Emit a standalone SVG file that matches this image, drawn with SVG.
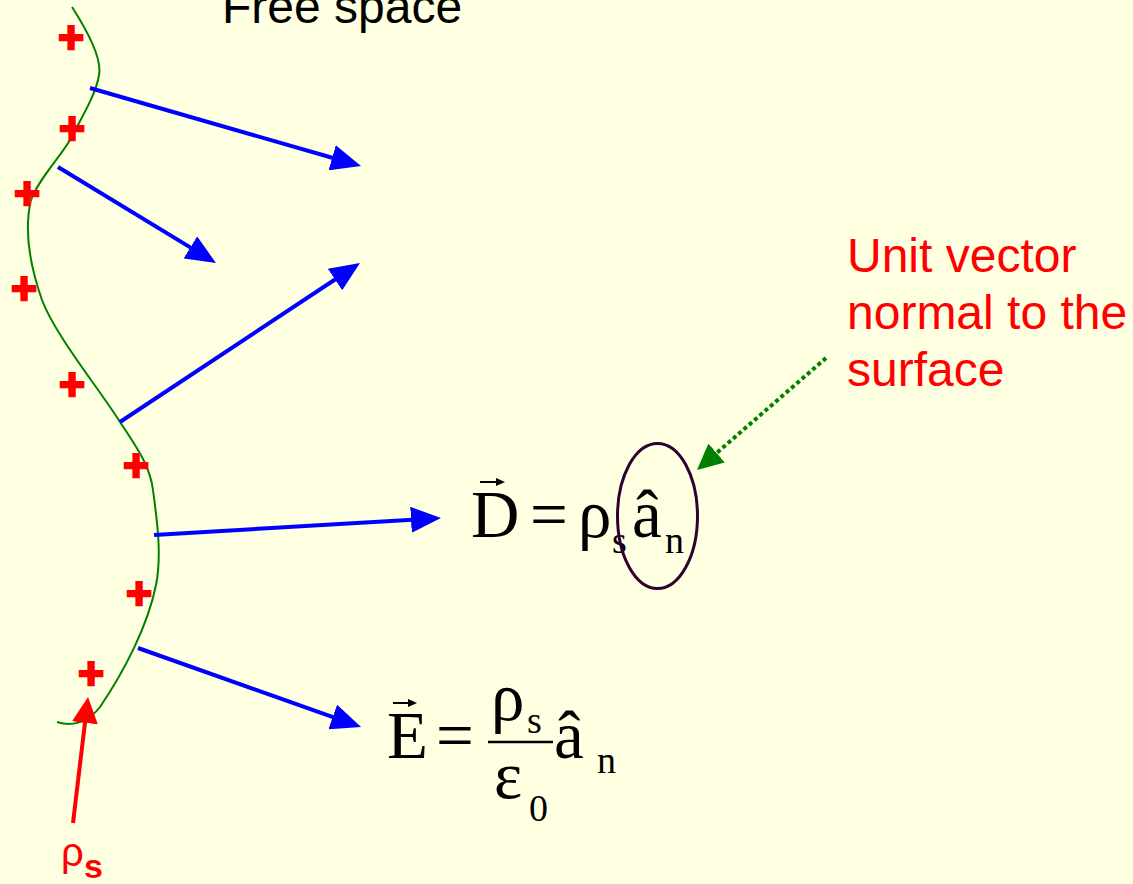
<svg xmlns="http://www.w3.org/2000/svg" width="1133" height="884" viewBox="0 0 1133 884">
<style>
.plus{font-family:"Liberation Sans",Arial,sans-serif;font-weight:bold;font-size:44px;fill:#FF0000;stroke:#FF0000;stroke-width:2.5;text-anchor:middle}
.blue{stroke:#0000FF;stroke-width:4;fill:none}
.lbl{font-family:"Liberation Sans",Arial,sans-serif;font-size:48px}
.eq{font-family:"Liberation Serif","Times New Roman",serif;font-size:67px;fill:#000}
.sub{font-family:"Liberation Serif","Times New Roman",serif;font-size:38px;fill:#000}
.accl{stroke:#000;stroke-width:2;fill:none}
</style>
<defs>
<marker id="ahBlue" markerUnits="userSpaceOnUse" markerWidth="30" markerHeight="26" refX="10" refY="13" orient="auto">
<path d="M0,0 L30,13 L0,26 z" fill="#0000FF"/>
</marker>
<marker id="ahRed" markerUnits="userSpaceOnUse" markerWidth="26" markerHeight="26" refX="8" refY="13" orient="auto">
<path d="M0,0 L26,13 L0,26 z" fill="#FF0000"/>
</marker>
<marker id="ahGreen" markerUnits="userSpaceOnUse" markerWidth="26" markerHeight="25" refX="2" refY="12.5" orient="auto">
<path d="M0,0 L26,12.5 L0,25 z" fill="#008000"/>
</marker>
<marker id="ahVec" markerUnits="userSpaceOnUse" markerWidth="9" markerHeight="8" refX="3" refY="4" orient="auto">
<path d="M0,0 L9,4 L0,8 z" fill="#000"/>
</marker>
</defs>
<rect x="0" y="0" width="1133" height="884" fill="#FFFFE1"/>

<g id="surface">
<path d="M72,7 C90,35 102,60 99,75 C96,95 80,120 70,140 C58,160 38,180 31,200 C25,225 28,260 42,300 C55,335 100,390 120,422 C135,445 150,465 153,490 C157,520 162,555 156,585 C148,625 125,670 100,707 C90,720 75,728 57,722" fill="none" stroke="#008000" stroke-width="2"/>
</g>

<g id="charges">
<text class="plus" x="71" y="53">+</text>
<text class="plus" x="72" y="144">+</text>
<text class="plus" x="27" y="209">+</text>
<text class="plus" x="24" y="304">+</text>
<text class="plus" x="72" y="400">+</text>
<text class="plus" x="136" y="481">+</text>
<text class="plus" x="139" y="609">+</text>
<text class="plus" x="91" y="689">+</text>
</g>

<g id="connectors">
<line class="blue" x1="90" y1="88" x2="341.8" y2="160.5" marker-end="url(#ahBlue)"/>
<line class="blue" x1="58" y1="167" x2="198.9" y2="252.6" marker-end="url(#ahBlue)"/>
<line class="blue" x1="120" y1="422" x2="343.3" y2="274" marker-end="url(#ahBlue)"/>
<line class="blue" x1="154" y1="535" x2="421" y2="519.2" marker-end="url(#ahBlue)"/>
<line class="blue" x1="138" y1="648" x2="342.2" y2="720.3" marker-end="url(#ahBlue)"/>
<line x1="73" y1="823" x2="85.9" y2="714.9" stroke="#FF0000" stroke-width="4" marker-end="url(#ahRed)"/>
<line x1="826" y1="358" x2="715.1" y2="454.3" stroke="#008000" stroke-width="4" stroke-dasharray="4 3" marker-end="url(#ahGreen)"/>
</g>

<g id="free-space">
<text class="lbl" x="222" y="23" fill="#000">Free space</text>
</g>

<g id="rho-label">
<text x="61" y="866" font-family="'Liberation Sans',Arial,sans-serif" font-size="40" fill="#FF0000">ρ<tspan x="84" y="878" font-weight="bold" font-size="34">s</tspan></text>
</g>

<g id="unit-vector-label">
<text class="lbl" fill="#FF0000"><tspan x="847" y="272">Unit vector</tspan><tspan x="847" y="329">normal to the</tspan><tspan x="847" y="386">surface</tspan></text>
</g>

<g id="eq-D">
<line class="accl" x1="480" y1="482" x2="499" y2="482" marker-end="url(#ahVec)"/>
<text class="eq" x="471" y="537">D</text>
<text class="eq" x="530" y="537">=</text>
<text class="eq" x="578" y="537">ρ</text>
<text class="sub" x="612" y="553">s</text>
<text class="eq" x="632" y="537">â</text>
<text class="sub" x="665" y="553">n</text>
<ellipse cx="657.5" cy="516" rx="40" ry="72.5" fill="none" stroke="#300030" stroke-width="3"/>
</g>

<g id="eq-E">
<line class="accl" x1="393" y1="703" x2="411" y2="703" marker-end="url(#ahVec)"/>
<text class="eq" x="387" y="758">E</text>
<text class="eq" x="436" y="758">=</text>
<text class="eq" x="491" y="720">ρ</text>
<text class="sub" x="527" y="733">s</text>
<line x1="488" y1="742" x2="553" y2="742" stroke="#000" stroke-width="2.5"/>
<text class="eq" x="494" y="798">ε</text>
<text class="sub" x="529" y="821">0</text>
<text class="eq" x="554" y="758">â</text>
<text class="sub" x="597" y="773">n</text>
</g>
</svg>
